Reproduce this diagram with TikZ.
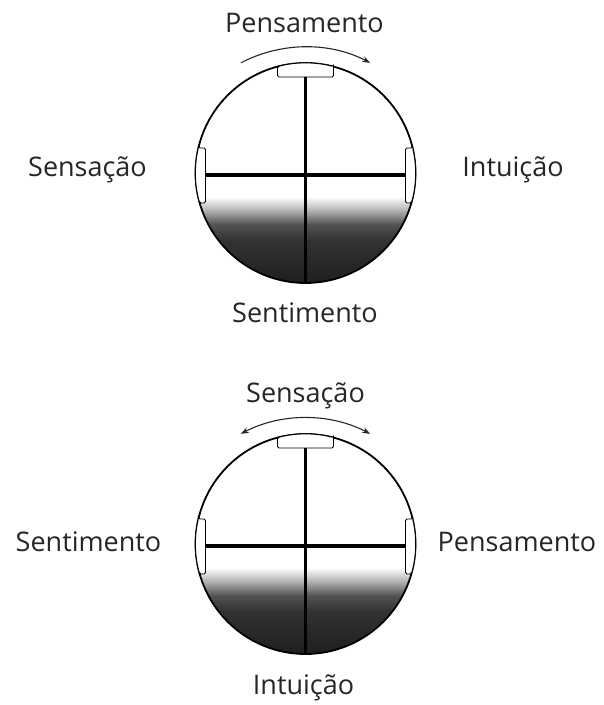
\documentclass[tikz,border=0pt]{standalone}
\usepackage{fontspec}
\setmainfont{Open Sans}
\usepackage{tikz}
\usetikzlibrary{arrows.meta}
\definecolor{ink}{rgb}{0.15,0.15,0.15}
\pgfdeclareverticalshading{dialshade}{100bp}{color(0bp)=(black!88); color(25bp)=(black!88);
  color(45bp)=(black!80); color(52bp)=(black!68); color(59bp)=(black!28);
  color(65bp)=(white); color(100bp)=(white)}

\begin{document}
\begin{tikzpicture}[
  x=1bp,y=1bp,
  lab/.style={font=\fontsize{27bp}{32bp}\selectfont,text=ink,anchor=base,inner sep=0pt},
  rim/.style={draw=black,line width=1.8bp},
  tab/.style={draw=black,line width=0.9bp,fill=white,rounded corners=1.5bp},
  cross/.style={draw=black,line width=3.4bp},
  swing/.style={draw=ink,line width=1.1bp}]

\useasboundingbox (0,0) rectangle (604,705);

% the two dials
\foreach \cy in {532,161}{
\begin{scope}[shift={(305.5,\cy)}]
  \begin{scope}
    \clip (0,0) circle (110);
    \shade[shading=dialshade] (-110,-110) rectangle (110,-2);
  \end{scope}
  \draw[rim] (0,0) circle (110);
  \draw[tab] (75.25:110) -- (28,96) -- (-28,96) -- (104.75:110)
    arc[start angle=104.75,end angle=75.25,radius=110] -- cycle;
  \draw[tab] (166.86:110) -- (-100,25) -- (-100,-30) -- (195.83:110)
    arc[start angle=195.83,end angle=166.86,radius=110] -- cycle;
  \draw[tab] (13.14:110) -- (100,25) -- (100,-30) -- (-15.83:110)
    arc[start angle=-15.83,end angle=13.14,radius=110] -- cycle;
  \draw[cross] (0,96) -- (0,-109);
  \draw[cross] (-100,-2) -- (100,-2);
\end{scope}
}

% top dial
\draw[swing,-{Stealth[length=8bp,width=6bp]}]
  ([shift={(305.5,518)}]117.5:140) arc[start angle=117.5,end angle=62.5,radius=140];
\node[lab] (p1) at (304.5,672) {Pensamento};
\node[lab] (s1) at (87.5,528) {Sensação};
\node[lab] (i1) at (513,528) {Intuição};
\node[lab] (t1) at (305,382) {Sentimento};

% bottom dial
\draw[swing,{Stealth[length=8bp,width=6bp]}-{Stealth[length=8bp,width=6bp]}]
  ([shift={(305.5,147)}]117.5:140) arc[start angle=117.5,end angle=62.5,radius=140];
\node[lab] (s2) at (305.5,302) {Sensação};
\node[lab] (t2) at (88.5,153) {Sentimento};
\node[lab] (p2) at (517,153) {Pensamento};
\node[lab] (i2) at (303.5,10) {Intuição};
\end{tikzpicture}
\end{document}
